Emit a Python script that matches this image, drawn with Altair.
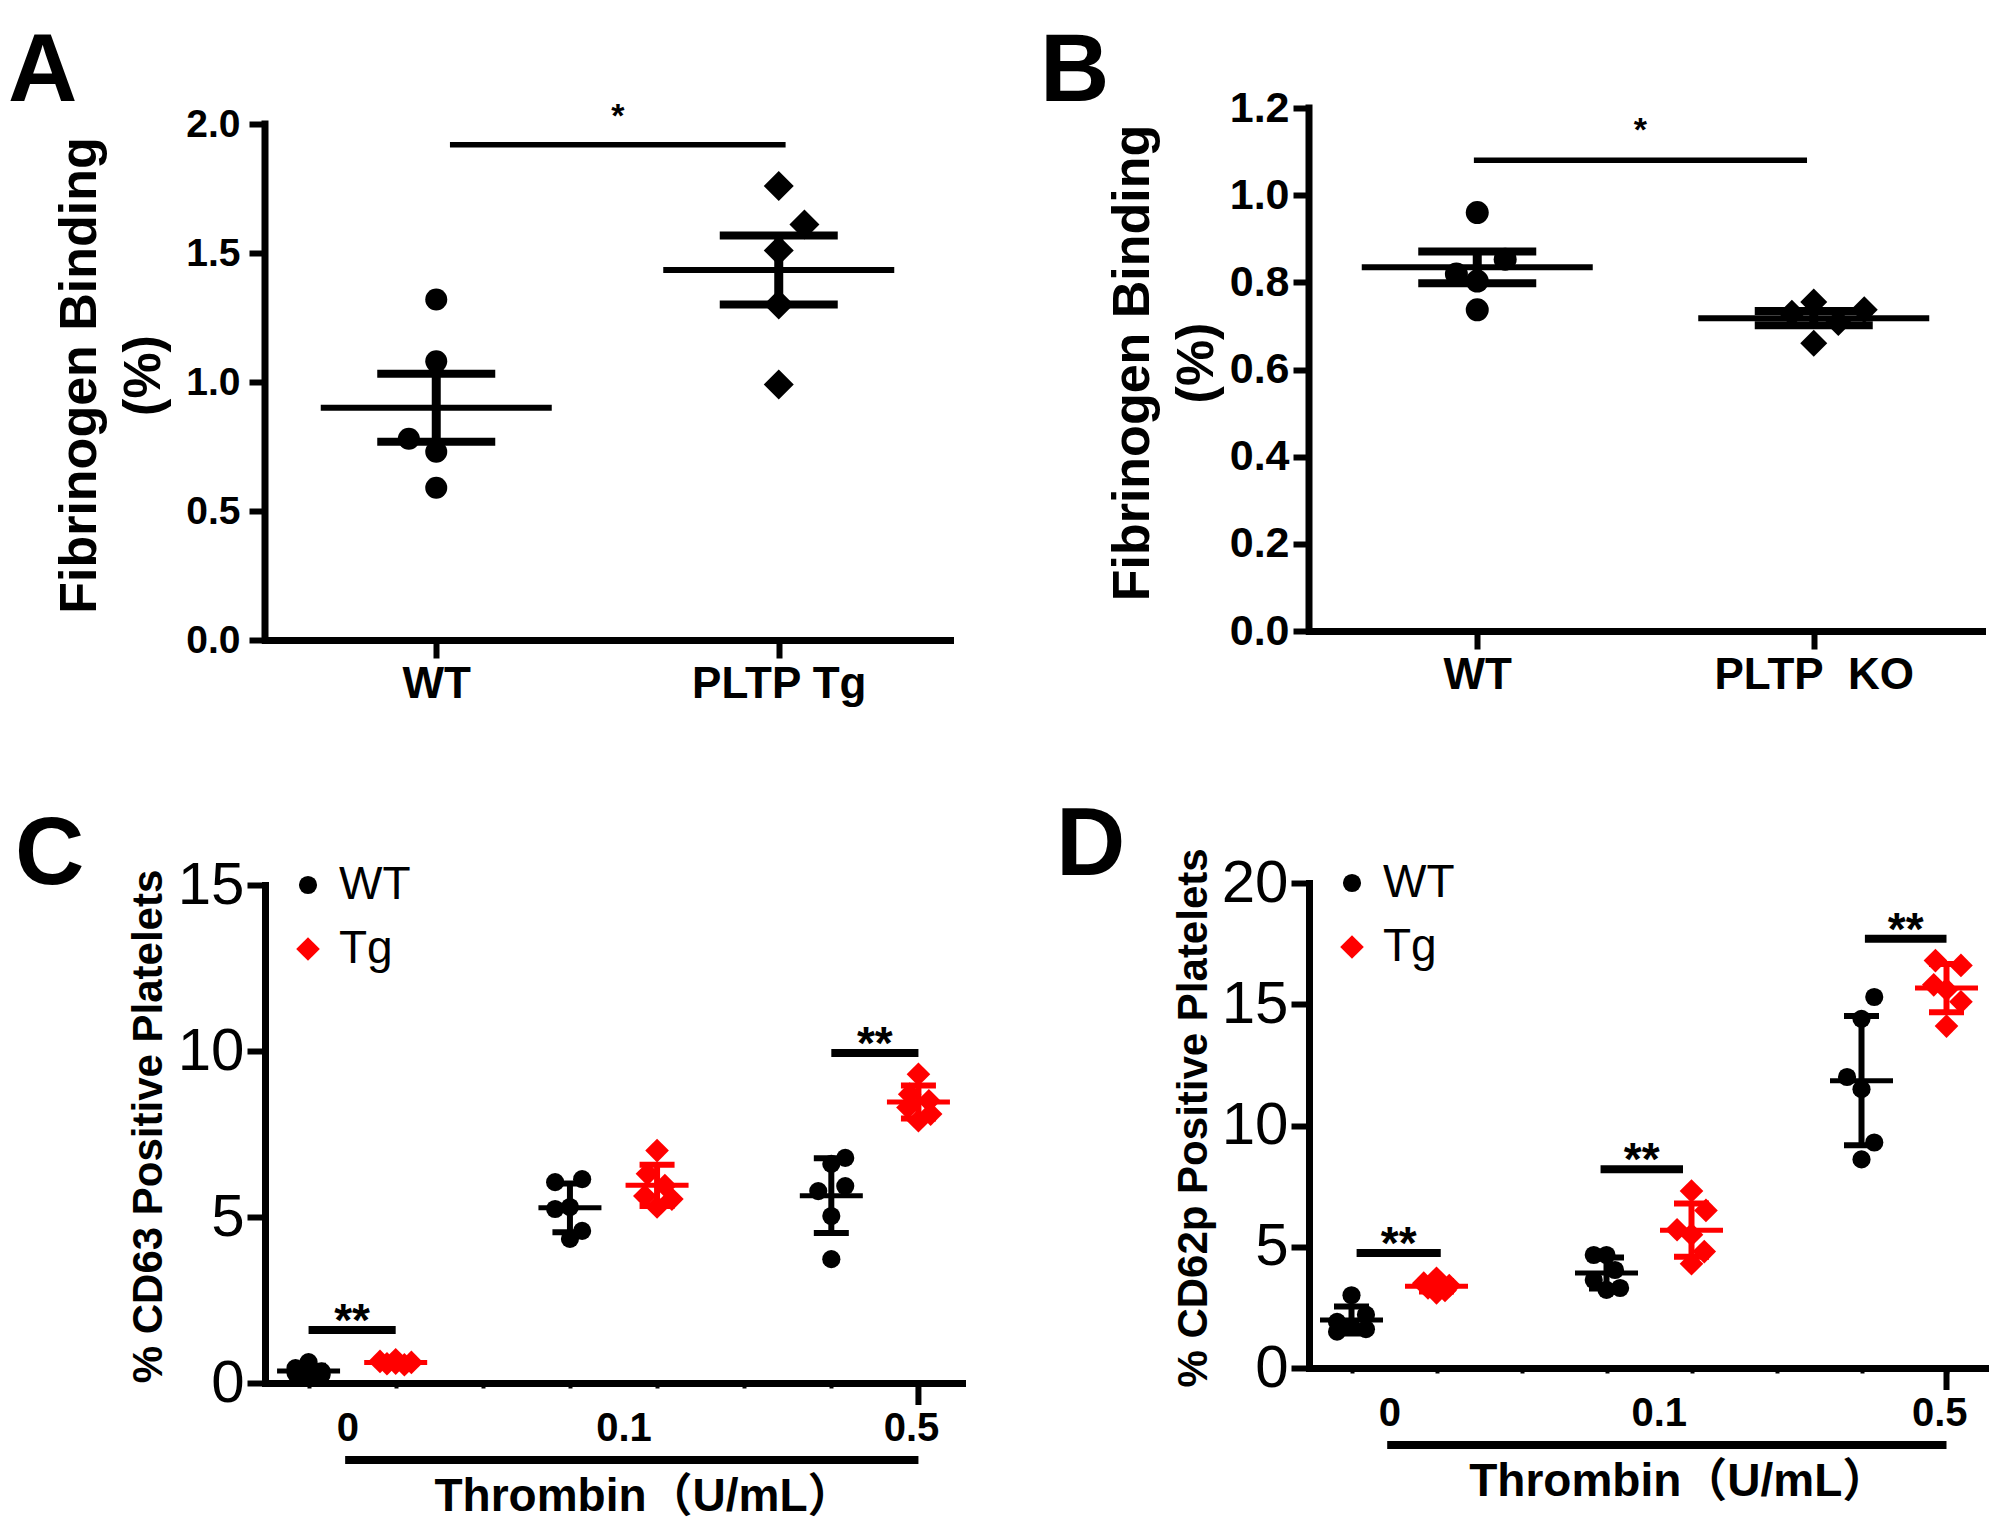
import altair as alt
import numpy as np
import pandas as pd

# ---------------------------------------------------------------- data
# Panel A : fibrinogen binding, WT vs PLTP Tg (mean +/- SEM)
a_groups = ["WT", "PLTP Tg"]
a_wt = [1.32, 1.08, 0.78, 0.73, 0.59]
a_tg = [1.76, 1.61, 1.51, 1.30, 0.99]
a_wt_jit = [0.0, 0.0, -0.08, 0.0, 0.0]
a_tg_jit = [0.0, 0.075, 0.0, 0.0, 0.0]
a_yticks = [0.0, 0.5, 1.0, 1.5, 2.0]
a_sig = [1.04, 2.02, 1.92]          # bar from, bar to, bar height

# Panel B : fibrinogen binding, WT vs PLTP KO (mean +/- SEM)
b_groups = ["WT", "PLTP\u00a0 KO"]
b_wt = [0.96, 0.853, 0.819, 0.803, 0.737]
b_ko = [0.755, 0.737, 0.729, 0.708, 0.66]
b_wt_jit = [0.0, 0.083, -0.062, 0.0, 0.0]
b_ko_jit = [0.0, 0.15, -0.065, 0.073, 0.0]
b_yticks = [0.0, 0.2, 0.4, 0.6, 0.8, 1.0, 1.2]
b_sig = [0.99, 1.98, 1.08]

# Panels C / D : thrombin doses (mean +/- SD)
cd_groups = ["WT", "Tg"]
doses = ["0", "0.1", "0.5"]
c_wt = [[0.63, 0.45, 0.35, 0.30, 0.25, 0.20],
        [6.14, 6.05, 5.30, 5.24, 4.58, 4.34],
        [6.78, 6.60, 5.93, 5.78, 5.03, 3.73]]
c_wt_jit = [[0, -0.15, 0.15, -0.15, 0.15, 0],
            [0.14, -0.17, 0, -0.17, 0.14, 0],
            [0.16, 0, 0.16, -0.15, 0, 0]]
c_tg = [[0.70, 0.65, 0.62, 0.58, 0.55, 0.60],
        [7.00, 6.30, 5.95, 5.63, 5.54, 5.30],
        [9.30, 8.70, 8.50, 8.30, 8.10, 7.90]]
c_tg_jit = [[0, -0.18, 0.18, -0.1, 0.1, 0],
            [0, -0.11, 0.09, -0.14, 0.17, 0],
            [0, -0.1, 0.12, -0.12, 0.14, 0]]
c_yticks = [0, 5, 10, 15]
c_sig = [[0.0, 1.0, 1.6], [6.0, 7.0, 9.94]]

d_wt = [[3.0, 2.2, 1.9, 1.7, 1.6, 1.5],
        [4.66, 4.66, 4.04, 3.63, 3.30, 3.22],
        [15.3, 14.4, 12.0, 11.5, 9.3, 8.6]]
d_wt_jit = [[0, 0.17, -0.17, 0, 0.17, -0.17],
            [-0.15, 0, 0.1, -0.15, 0.16, 0],
            [0.15, 0, -0.17, 0, 0.15, 0]]
d_tg = [[3.7, 3.5, 3.4, 3.3, 3.2, 3.1],
        [7.3, 6.5, 5.7, 5.5, 4.8, 4.3],
        [16.8, 16.6, 15.8, 15.6, 15.1, 14.1]]
d_tg_jit = [[0, -0.15, 0.15, -0.1, 0.1, 0],
            [0, 0.17, -0.17, 0, 0.15, 0],
            [-0.13, 0.17, -0.15, 0, 0.17, 0]]
d_yticks = [0, 5, 10, 15, 20]
d_sig = [[0.06, 1.05, 4.74], [2.93, 3.9, 8.2], [6.04, 7.0, 17.7]]

xtitle_cd = "Thrombin（U/mL）"

# ---------------------------------------------------------------- style
BOLD = "'Liberation Sans', Arial, sans-serif"
NARROW = "'Liberation Sans Narrow', 'Arial Narrow', 'Liberation Sans', sans-serif"
TITLEF = "'Liberation Sans', 'Noto Sans CJK SC', sans-serif"
RED = "#ff0000"
LETTER_SIZE = 96


def letter_layer(letter, xy):
    return alt.Chart(pd.DataFrame({"t": [letter]})).mark_text(
        font=BOLD, fontWeight="bold", fontSize=LETTER_SIZE, align="left",
        baseline="alphabetic", color="black").encode(
        text="t:N", x=alt.value(xy[0]), y=alt.value(xy[1]))


def panel_ab(letter, groups, v1, v2, j1, j2, yticks, ymax, sig, w, h, extra,
             letter_xy, pt_sizes, ylab_size, ytick_size, ylab_pad, title_x, star_dy):
    # h: height of the 0..ymax axis; extra: empty room above the axis top
    rows = []
    for gi, (vals, jits) in enumerate([(v1, j1), (v2, j2)]):
        for v, j in zip(vals, jits):
            rows.append({"group": groups[gi], "pos": gi + 1, "x": gi + 1 + j, "value": v})
    pts = pd.DataFrame(rows)
    st = pts.groupby("pos")["value"].agg(["mean", "std", "count"]).reset_index()
    st["err"] = st["std"] / np.sqrt(st["count"])
    st["lo"] = st["mean"] - st["err"]
    st["hi"] = st["mean"] + st["err"]
    caps = pd.concat([st[["pos"]].assign(cv=st["lo"]), st[["pos"]].assign(cv=st["hi"])])

    H = h + extra
    xscale = alt.Scale(domain=[0.5, 2.5], nice=False, zero=False)
    yscale = alt.Scale(domain=[0, ymax * H / h], nice=False, zero=False)
    lab = "[" + ",".join("'" + g + "'" for g in groups) + "][datum.value - 1]"
    xaxis = alt.Axis(values=[1, 2], labelExpr=lab, title=None, grid=False,
                     domainColor="black", domainWidth=7, domainCap="square",
                     tickColor="black", tickWidth=6, tickSize=18,
                     labelFont=BOLD, labelFontWeight="bold", labelFontSize=44,
                     labelColor="black", labelPadding=4, labelAngle=0, labelLimit=600,
                     labelFlush=False, labelOverlap=False)
    yaxis = alt.Axis(values=yticks, format=".1f", title=["Fibrinogen Binding", "(%)"],
                     grid=False, domain=False,
                     tickColor="black", tickWidth=6, tickSize=ytick_size,
                     labelFont=BOLD, labelFontWeight="bold", labelFontSize=ylab_size,
                     labelColor="black", labelPadding=ylab_pad, labelFlush=False,
                     labelOverlap=False, titleFont=BOLD, titleFontWeight="bold",
                     titleFontSize=52, titleColor="black", titleLineHeight=64,
                     titleX=title_x, titleY=extra + h / 2 - 7, titleAlign="center",
                     titleBaseline="middle", titleAngle=270, titleLimit=2000)

    def X(f):
        return alt.X(f + ":Q", scale=xscale, axis=xaxis)

    def Y(f):
        return alt.Y(f + ":Q", scale=yscale, axis=yaxis)

    yline = alt.Chart(pd.DataFrame({"y0": [0.0], "y1": [ymax]})).mark_rule(
        strokeWidth=7, strokeCap="square", color="black").encode(
        x=alt.value(0), y=Y("y0"), y2="y1")
    mean = alt.Chart(st).mark_tick(orient="horizontal", size=231, thickness=6, opacity=1,
                                   color="black").encode(x=X("pos"), y=Y("mean"))
    capm = alt.Chart(caps).mark_tick(orient="horizontal", size=118, thickness=8, opacity=1,
                                     color="black").encode(x=X("pos"), y=Y("cv"))
    vert = alt.Chart(st).mark_rule(strokeWidth=9, color="black").encode(
        x=X("pos"), y=Y("lo"), y2="hi")
    points = alt.Chart(pts).mark_point(filled=True, opacity=1, color="black",
                                       strokeWidth=0).encode(
        x=X("x"), y=Y("value"),
        shape=alt.Shape("group:N", scale=alt.Scale(domain=groups, range=["circle", "diamond"]),
                        legend=None),
        size=alt.Size("group:N", scale=alt.Scale(domain=groups, range=pt_sizes), legend=None))
    sigdf = pd.DataFrame({"x1": [sig[0]], "x2": [sig[1]], "y": [sig[2]],
                          "xm": [(sig[0] + sig[1]) / 2]})
    sigbar = alt.Chart(sigdf).mark_rule(strokeWidth=5.5, color="black").encode(
        x=X("x1"), x2="x2", y=Y("y"))
    star = alt.Chart(sigdf).mark_text(text="*", font=BOLD, fontWeight="bold", fontSize=34,
                                      baseline="middle", dy=star_dy, color="black").encode(
        x=X("xm"), y=Y("y"))
    return alt.layer(yline, mean, capm, vert, points, sigbar, star,
                     letter_layer(letter, letter_xy)).properties(width=w, height=H)


def panel_cd(letter, ytitle, wt, tg, wtj, tgj, yticks, ymax, sigs, w, h, letter_xy, title_x):
    rows = []
    for di in range(len(doses)):
        for gi, (vals, jits) in enumerate([(wt, wtj), (tg, tgj)]):
            pos = di * 3 + gi
            for v, j in zip(vals[di], jits[di]):
                rows.append({"group": cd_groups[gi], "pos": pos, "x": pos + j, "value": v})
    pts = pd.DataFrame(rows)
    st = pts.groupby(["group", "pos"])["value"].agg(["mean", "std"]).reset_index()
    st["lo"] = st["mean"] - st["std"]
    st["hi"] = st["mean"] + st["std"]
    caps = pd.concat([st[["group", "pos"]].assign(cv=st["lo"]),
                      st[["group", "pos"]].assign(cv=st["hi"])])

    xscale = alt.Scale(domain=[-0.5, 7.5], nice=False, zero=False)
    yscale = alt.Scale(domain=[0, ymax], nice=False, zero=False)
    xaxis = alt.Axis(values=list(range(8)), labels=False, title=None, grid=False,
                     domainColor="black", domainWidth=7, domainCap="square",
                     tickColor="black", tickWidth=4, tickSize=5)
    yaxis = alt.Axis(values=yticks, format="d", title=ytitle, grid=False,
                     domainColor="black", domainWidth=7, domainCap="square",
                     tickColor="black", tickWidth=6, tickSize=18,
                     labelFont=NARROW, labelFontSize=60, labelColor="black",
                     labelPadding=3, labelFlush=False, labelOverlap=False,
                     titleFont=BOLD, titleFontWeight="bold", titleFontSize=42,
                     titleColor="black", titleX=title_x, titleY=h / 2 - 8,
                     titleAlign="center", titleBaseline="middle", titleAngle=270,
                     titleLimit=2000)

    def X(f):
        return alt.X(f + ":Q", scale=xscale, axis=xaxis)

    def Y(f):
        return alt.Y(f + ":Q", scale=yscale, axis=yaxis)

    cscale = alt.Scale(domain=cd_groups, range=["black", RED])
    leg = alt.Legend(orient="none", legendX=20, legendY=-23, title=None,
                     labelFont=NARROW, labelFontSize=46, labelColor="black",
                     symbolSize=450, symbolStrokeWidth=0, labelOffset=8,
                     rowPadding=18, padding=0, symbolOpacity=1)

    def C():
        return alt.Color("group:N", scale=cscale, legend=leg)

    points = alt.Chart(pts).mark_point(filled=True, opacity=1, strokeWidth=0).encode(
        x=X("x"), y=Y("value"), color=C(),
        shape=alt.Shape("group:N", scale=alt.Scale(domain=cd_groups, range=["circle", "diamond"]),
                        legend=leg),
        size=alt.Size("group:N", scale=alt.Scale(domain=cd_groups, range=[330, 560]), legend=None))
    mean = alt.Chart(st).mark_tick(orient="horizontal", size=63, thickness=5, opacity=1).encode(
        x=X("pos"), y=Y("mean"), color=C())
    capm = alt.Chart(caps).mark_tick(orient="horizontal", size=35, thickness=6, opacity=1).encode(
        x=X("pos"), y=Y("cv"), color=C())
    vert = alt.Chart(st).mark_rule(strokeWidth=6).encode(
        x=X("pos"), y=Y("lo"), y2="hi", color=C())
    sigdf = pd.DataFrame({"x1": [s[0] for s in sigs], "x2": [s[1] for s in sigs],
                          "y": [s[2] for s in sigs],
                          "xm": [(s[0] + s[1]) / 2 for s in sigs]})
    sigbar = alt.Chart(sigdf).mark_rule(strokeWidth=8, color="black").encode(
        x=X("x1"), x2="x2", y=Y("y"))
    star = alt.Chart(sigdf).mark_text(text="**", font=BOLD, fontWeight="bold", fontSize=46,
                                      baseline="middle", dy=-8, color="black").encode(
        x=X("xm"), y=Y("y"))
    labdf = pd.DataFrame({"lab": doses, "lx": [0.45, 3.62, 6.92]})
    labs = alt.Chart(labdf).mark_text(font=BOLD, fontWeight="bold", fontSize=40,
                                      baseline="top", color="black").encode(
        x=X("lx"), y=alt.value(h + 26), text="lab:N")
    under = alt.Chart(pd.DataFrame({"u1": [0.42], "u2": [7.0]})).mark_rule(
        strokeWidth=8, color="black").encode(x=X("u1"), x2="u2", y=alt.value(h + 77))
    big = alt.Chart(pd.DataFrame({"bt": [7]})).mark_rule(strokeWidth=6, color="black").encode(
        x=X("bt"), y=alt.value(h), y2=alt.value(h + 22))
    ttl = alt.Chart(pd.DataFrame({"tt": [xtitle_cd], "tx": [3.85]})).mark_text(
        font=TITLEF, fontWeight="bold", fontSize=46, baseline="alphabetic",
        color="black").encode(x=X("tx"), y=alt.value(h + 128), text="tt:N")
    return alt.layer(points, mean, capm, vert, sigbar, star, labs, under, big, ttl,
                     letter_layer(letter, letter_xy)).properties(width=w, height=h)


A = panel_ab("A", a_groups, a_wt, a_tg, a_wt_jit, a_tg_jit, a_yticks, 2.0, a_sig,
             685, 516, 16, (-257, -7), [484, 900], 39, 16, 9, -186, -28)
B = panel_ab("B", b_groups, b_wt, b_ko, b_wt_jit, b_ko_jit, b_yticks, 1.2, b_sig,
             673, 523, 0, (-269, -7), [529, 729], 43, 16, 4, -177, -29)
Cc = panel_cd("C", "% CD63 Positive Platelets", c_wt, c_tg, c_wt_jit, c_tg_jit,
              c_yticks, 15, c_sig, 697, 498, (-250, -1), -117)
D = panel_cd("D", "% CD62p Positive Platelets", d_wt, d_tg, d_wt_jit, d_tg_jit,
             d_yticks, 20, d_sig, 680, 485, (-253, -8), -116)

ind = dict(color="independent", shape="independent", size="independent")
col1 = alt.vconcat(A, Cc, spacing=101).resolve_scale(**ind)
col2 = alt.vconcat(B, D, spacing=101).resolve_scale(**ind)
chart = (alt.hconcat(col1, col2, spacing=78)
         .resolve_scale(**ind)
         .properties(padding={"top": 16, "left": 0, "right": 0, "bottom": 0},
                     background="white")
         .configure_view(stroke=None))

chart.save("out.html", embed_options={"renderer": "svg", "actions": False})
